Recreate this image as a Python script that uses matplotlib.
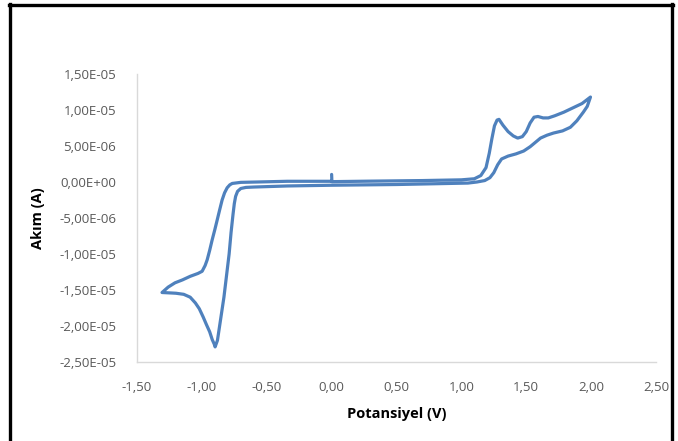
import matplotlib
matplotlib.use("Agg")
import matplotlib.pyplot as plt
from matplotlib.lines import Line2D
from matplotlib.ticker import FuncFormatter

# Cyclic voltammogram (V, current in µA -> A below)
potential_v = [
    0.000, 0.002, 0.30, 0.70, 1.00, 1.10, 1.15, 1.19, 1.215, 1.235,
    1.255, 1.275, 1.29, 1.32, 1.36, 1.40, 1.434, 1.47, 1.50, 1.53,
    1.56, 1.59, 1.63, 1.67, 1.72, 1.79, 1.86, 1.93, 1.995,
    1.97, 1.94, 1.89, 1.84, 1.78, 1.71, 1.66, 1.61, 1.57, 1.53,
    1.48, 1.42, 1.36, 1.31, 1.28, 1.25, 1.22, 1.18, 1.12, 1.05,
    0.50, 0.00, -0.34, -0.60, -0.66, -0.70, -0.725, -0.74, -0.75, -0.76,
    -0.775, -0.79, -0.81, -0.83, -0.855, -0.88, -0.898,
    -0.905, -0.92, -0.94, -0.965, -0.99, -1.02, -1.05, -1.09, -1.14,
    -1.20, -1.25, -1.307,
    -1.26, -1.207, -1.15, -1.09, -1.03, -0.998, -0.975, -0.959, -0.94,
    -0.921, -0.90, -0.882, -0.862, -0.844, -0.825, -0.805, -0.785, -0.766,
    -0.70, -0.573, -0.34, 0.000,
]
current_ua = [
    1.05, 0.05, 0.12, 0.20, 0.30, 0.45, 0.90, 2.00, 4.00, 6.00,
    7.80, 8.60, 8.70, 7.90, 7.00, 6.40, 6.10, 6.30, 7.00, 8.20,
    9.00, 9.10, 8.90, 8.90, 9.20, 9.70, 10.30, 10.90, 11.80,
    10.50, 9.70, 8.50, 7.60, 7.10, 6.80, 6.50, 6.10, 5.50, 4.90,
    4.30, 3.90, 3.60, 3.20, 2.40, 1.30, 0.60, 0.20, 0.00, -0.15,
    -0.35, -0.45, -0.55, -0.70, -0.75, -0.90, -1.30, -2.00, -3.00, -4.50,
    -7.00, -10.00, -13.00, -16.00, -19.00, -22.00, -22.90,
    -22.50, -21.90, -20.80, -19.80, -18.75, -17.60, -16.80, -16.00, -15.60,
    -15.45, -15.40, -15.35,
    -14.60, -14.00, -13.60, -13.10, -12.70, -12.40, -11.60, -10.80, -9.50,
    -8.06, -6.60, -5.28, -3.80, -2.50, -1.50, -0.80, -0.40, -0.20,
    -0.05, 0.00, 0.10, 0.10,
]
current_a = [v * 1e-6 for v in current_ua]

x_ticks = [-1.5, -1.0, -0.5, 0.0, 0.5, 1.0, 1.5, 2.0, 2.5]
y_ticks = [-2.5e-5, -2.0e-5, -1.5e-5, -1.0e-5, -5.0e-6, 0.0, 5.0e-6, 1.0e-5, 1.5e-5]
x_label = "Potansiyel (V)"
y_label = "Akım (A)"

plt.rcParams['font.family'] = ['Open Sans', 'DejaVu Sans']

W, H = 678, 441
fig = plt.figure(figsize=(W / 100, H / 100), dpi=100)
ax = fig.add_axes([137 / W, 1 - 362 / H, (656 - 137) / W, (362 - 74) / H])

ax.plot(potential_v, current_a, color="#4F81BD", lw=2.3, solid_joinstyle="round",
        solid_capstyle="round")

ax.set_xlim(-1.5, 2.5)
ax.set_ylim(-2.5e-5, 1.5e-5)
ax.set_xticks(x_ticks)
ax.set_yticks(y_ticks)


def fmt_x(v, _):
    return f"{v:.2f}".replace(".", ",")


def fmt_y(v, _):
    return f"{v:.2E}".replace(".", ",")


ax.xaxis.set_major_formatter(FuncFormatter(fmt_x))
ax.yaxis.set_major_formatter(FuncFormatter(fmt_y))

for side in ("top", "right"):
    ax.spines[side].set_visible(False)
for side in ("left", "bottom"):
    ax.spines[side].set_color("#D9D9D9")
    ax.spines[side].set_linewidth(1.0)

ax.tick_params(axis="both", length=0, labelsize=9.5, colors="#595959")
ax.tick_params(axis="y", pad=15)
ax.tick_params(axis="x", pad=14)

ax.set_xlabel(x_label, fontsize=10.5, fontweight="bold", color="black", labelpad=9)
ax.set_ylabel(y_label, fontsize=10.5, fontweight="bold", color="black", labelpad=10)


# Black frame from the screenshot
def px_line(x0, y0, x1, y1):
    fig.add_artist(Line2D([x0 / W, x1 / W], [1 - y0 / H, 1 - y1 / H],
                          transform=fig.transFigure, color="black", lw=2.4))


px_line(9, 5, 673, 5)
px_line(10, 4, 10, 441)
px_line(672, 4, 672, 441)

fig.savefig("out.png", dpi=100)
